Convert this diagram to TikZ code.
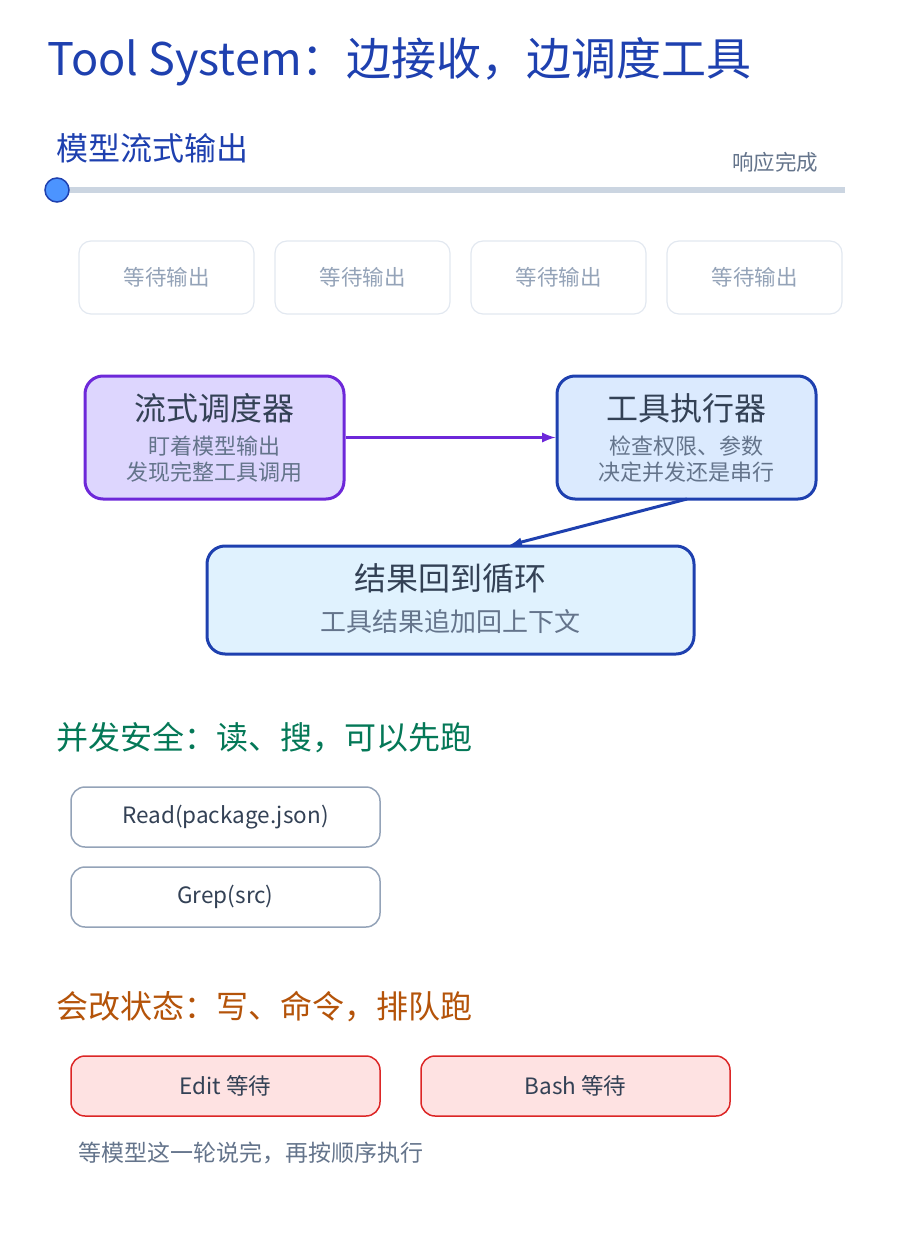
\documentclass[tikz,border=0pt]{standalone}
\usepackage{fontspec}
\setmainfont{Noto Sans CJK SC}
\usetikzlibrary{positioning}
\definecolor{titleblue}{HTML}{1E40AF}
\definecolor{trackgray}{HTML}{CBD5E1}
\definecolor{lightgray}{HTML}{E2E8F0}
\definecolor{mutegray}{HTML}{94A3B8}
\definecolor{subgray}{HTML}{64748B}
\definecolor{textdark}{HTML}{334155}
\definecolor{purpleline}{HTML}{6D28D9}
\definecolor{purplefill}{HTML}{DDD6FE}
\definecolor{bluefill}{HTML}{DBEAFE}
\definecolor{skyfill}{HTML}{E0F2FE}
\definecolor{safegreen}{HTML}{047857}
\definecolor{warnorange}{HTML}{B45309}
\definecolor{redline}{HTML}{DC2626}
\definecolor{redfill}{HTML}{FEE2E2}
\tikzset{
  wait/.style={draw=lightgray,line width=1.2pt,rounded corners=12pt,minimum width=175pt,minimum height=73pt,text=mutegray,font=\fontsize{21.5}{26}\selectfont},
  stage/.style={line width=3pt,rounded corners=18pt,align=center,text=textdark},
  tool/.style={draw=mutegray,line width=1.5pt,rounded corners=14pt,minimum width=309pt,minimum height=60pt,text=textdark,font=\fontsize{22.5}{26}\selectfont},
  queued/.style={tool,draw=redline,fill=redfill},
  heading/.style={anchor=west,font=\fontsize{32}{38}\selectfont},
  big/.style={font=\fontsize{32}{38}\selectfont,text=textdark},
  sub/.style={font=\fontsize{22}{26}\selectfont,text=subgray}
}
\begin{document}
\begin{tikzpicture}[x=1pt,y=-1pt]
\useasboundingbox (0,0) rectangle (900,1260);
\node[anchor=west,text=titleblue,font=\fontsize{45}{54}\selectfont] (title) at (44,62) {Tool System：边接收，边调度工具};
\node[heading,text=titleblue] (stream) at (53,148) {模型流式输出};
\node[anchor=east,text=subgray,font=\fontsize{21.5}{26}\selectfont] (done) at (822,162) {响应完成};
\draw[trackgray,line width=6pt] (57,190) -- (845,190);
\node[circle,draw=titleblue,fill=blue!60!cyan!70,line width=1.5pt,minimum size=24pt,inner sep=0pt] (head) at (57,190) {};
% waiting slots
\foreach \i/\x in {1/166.5,2/362.5,3/558.5,4/754.5}
  \node[wait] (w\i) at (\x,277.5) {等待输出};
% pipeline
\node[stage,draw=purpleline,fill=purplefill,minimum width=259pt,minimum height=123pt] (sched) at (214.5,437.5) {};
\node[big] at (214.5,408) {流式调度器};
\node[sub,align=center] at (214.5,459) {盯着模型输出\\发现完整工具调用};
\node[stage,draw=titleblue,fill=bluefill,minimum width=259pt,minimum height=123pt] (exec) at (686.5,437.5) {};
\node[big] at (686.5,408) {工具执行器};
\node[sub,align=center] at (686.5,459) {检查权限、参数\\决定并发还是串行};
\node[stage,draw=titleblue,fill=skyfill,minimum width=487pt,minimum height=108pt] (loop) at (450.5,600) {};
\node[big] at (450.5,578) {结果回到循环};
\node[sub,font=\fontsize{26}{30}\selectfont] at (450.5,622) {工具结果追加回上下文};
\coordinate (execout) at (687,499);
\coordinate (loopin) at (510,545);
\draw[-latex,purpleline,line width=3.5pt] (sched.east) -- (exec.west);
\draw[-latex,titleblue,line width=3pt] (execout) -- (loopin);
% safe tools
\node[heading,text=safegreen] (safe) at (53,738) {并发安全：读、搜，可以先跑};
\node[tool] (read) at (225.5,817) {Read(package.json)};
\node[tool] (grep) at (225.5,897) {Grep(src)};
% queued tools
\node[heading,text=warnorange] (unsafe) at (53,1007) {会改状态：写、命令，排队跑};
\node[queued] (edit) at (225.5,1086) {Edit 等待};
\node[queued] (bash) at (575.5,1086) {Bash 等待};
\node[anchor=west,sub,font=\fontsize{23}{27}\selectfont] (note) at (75,1153) {等模型这一轮说完，再按顺序执行};
\end{tikzpicture}
\end{document}
